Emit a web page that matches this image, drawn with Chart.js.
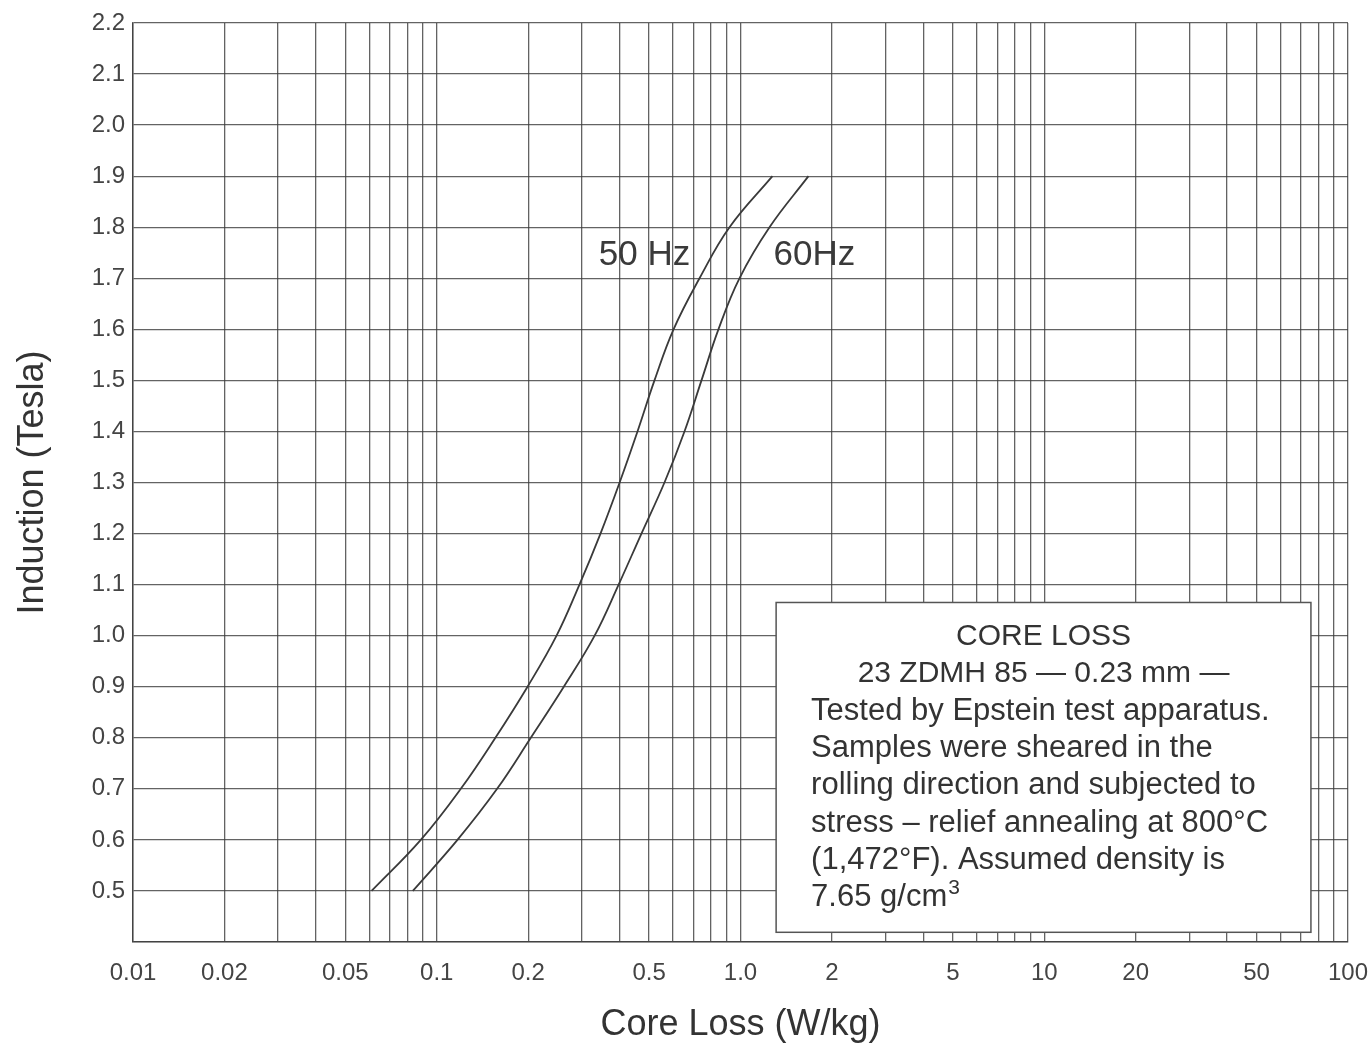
<!DOCTYPE html>
<html>
<head>
<meta charset="utf-8">
<title>Core Loss 23 ZDMH 85</title>
<script src="https://cdn.jsdelivr.net/npm/chart.js@4.4.1/dist/chart.umd.min.js"></script>
<style>
  html, body { margin: 0; padding: 0; background: #fff; }
  canvas { display: block; }
</style>
</head>
<body>
<canvas id="coreLossChart" width="1372" height="1052"></canvas>
<script>
const induction = [0.5, 0.6, 0.7, 0.8, 0.9, 1.0, 1.1, 1.2, 1.3, 1.4, 1.5, 1.6, 1.7, 1.8, 1.9];

// Core loss (W/kg) at each induction level
const loss50Hz = [0.061, 0.0886, 0.120, 0.156, 0.199, 0.248, 0.295, 0.346, 0.400, 0.458, 0.521, 0.602, 0.733, 0.920, 1.274];
const loss60Hz = [0.0834, 0.117, 0.158, 0.204, 0.262, 0.331, 0.397, 0.472, 0.562, 0.654, 0.744, 0.846, 0.992, 1.246, 1.674];

// x axis: labelled ticks and the 1..9 grid per decade
const xTickValues = [0.01, 0.02, 0.05, 0.1, 0.2, 0.5, 1, 2, 5, 10, 20, 50, 100];
const xTickLabels = ['0.01', '0.02', '0.05', '0.1', '0.2', '0.5', '1.0', '2', '5', '10', '20', '50', '100'];
const decades = [0.01, 0.1, 1, 10];
const xGridValues = [];
decades.forEach(d => {
  for (let m = 1; m <= 9; m++) xGridValues.push(+(m * d).toPrecision(3));
});
xGridValues.push(100);

const noteLines = [
  'Tested by Epstein test apparatus.',
  'Samples were sheared in the',
  'rolling direction and subjected to',
  'stress \u2013 relief annealing at 800\u00b0C',
  '(1,472\u00b0F). Assumed density is'
];

const FONT = '"Liberation Sans", Arial, Helvetica, sans-serif';
const gridColor = 'rgba(60, 60, 60, 0.8)';
const inkColor = '#3a3a3a';

// draws the curve labels and the note box
const notesPlugin = {
  id: 'notes',
  afterDatasetsDraw(chart) {
    const { ctx, scales: { x, y } } = chart;
    ctx.save();

    // curve labels
    ctx.fillStyle = inkColor;
    ctx.font = '35px ' + FONT;
    ctx.textAlign = 'center';
    ctx.textBaseline = 'middle';
    ctx.fillText('50 Hz', x.getPixelForValue(0.483), y.getPixelForValue(1.744));
    ctx.fillText('60Hz', x.getPixelForValue(1.75), y.getPixelForValue(1.744));

    // note box
    const left = x.getPixelForValue(1.31);
    const right = x.getPixelForValue(75.5);
    const top = y.getPixelForValue(1.065);
    const bottom = y.getPixelForValue(0.419);
    ctx.fillStyle = '#fff';
    ctx.fillRect(left, top, right - left, bottom - top);
    ctx.strokeStyle = '#555';
    ctx.lineWidth = 1.5;
    ctx.strokeRect(left, top, right - left, bottom - top);

    const lineH = 37.3;
    const cx = (left + right) / 2;
    let ty = top + 34;
    ctx.fillStyle = '#333';
    ctx.font = '30px ' + FONT;
    ctx.textAlign = 'center';
    ctx.fillText('CORE LOSS', cx, ty);
    ty += lineH;
    ctx.fillText('23 ZDMH 85 \u2014 0.23 mm \u2014', cx, ty);
    ctx.font = '31px ' + FONT;
    ctx.textAlign = 'left';
    const tx = left + 35;
    noteLines.forEach(line => {
      ty += lineH;
      ctx.fillText(line, tx, ty);
    });
    ty += lineH;
    const base = '7.65 g/cm';
    ctx.fillText(base, tx, ty);
    const w = ctx.measureText(base).width;
    ctx.font = '21px ' + FONT;
    ctx.fillText('3', tx + w + 1, ty - 9);

    ctx.restore();
  }
};

const ctx = document.getElementById('coreLossChart').getContext('2d');

new Chart(ctx, {
  type: 'line',
  data: {
    datasets: [
      {
        label: '50 Hz',
        data: induction.map((b, i) => ({ x: loss50Hz[i], y: b })),
        borderColor: inkColor,
        borderWidth: 1.8,
        pointRadius: 0,
        tension: 0.4,
        fill: false
      },
      {
        label: '60 Hz',
        data: induction.map((b, i) => ({ x: loss60Hz[i], y: b })),
        borderColor: inkColor,
        borderWidth: 1.8,
        pointRadius: 0,
        tension: 0.4,
        fill: false
      }
    ]
  },
  options: {
    responsive: false,
    animation: false,
    layout: { padding: { top: 23, right: 24, left: 0, bottom: 0 } },
    plugins: {
      legend: { display: false },
      tooltip: { enabled: false }
    },
    scales: {
      x: {
        type: 'logarithmic',
        min: 0.01,
        max: 100,
        afterBuildTicks: scale => {
          scale.ticks = xGridValues.map(v => ({ value: v }));
        },
        afterFit: scale => {
          scale.height = 110;
          scale.paddingLeft = 0;
          scale.paddingRight = 0;
        },
        grid: { color: gridColor, lineWidth: 1.3, drawTicks: false },
        border: { display: true, color: gridColor, width: 1.5 },
        ticks: {
          autoSkip: false,
          maxRotation: 0,
          padding: 17,
          color: '#444',
          font: { family: FONT, size: 24 },
          callback: value => {
            const i = xTickValues.findIndex(v => Math.abs(v - value) < value * 1e-6);
            return i >= 0 ? xTickLabels[i] : '';
          }
        },
        title: {
          display: true,
          text: 'Core Loss (W/kg)',
          color: '#333',
          font: { family: FONT, size: 36 },
          padding: { top: 0, bottom: 5 }
        }
      },
      y: {
        type: 'linear',
        min: 0.4,
        max: 2.2,
        afterFit: scale => {
          scale.width = 133;
          scale.paddingTop = 0;
          scale.paddingBottom = 0;
        },
        grid: { color: gridColor, lineWidth: 1.3, drawTicks: false },
        border: { display: true, color: gridColor, width: 1.5 },
        ticks: {
          stepSize: 0.1,
          padding: 8,
          color: '#444',
          font: { family: FONT, size: 24 },
          callback: value => (Math.abs(value - 0.4) < 1e-6 ? '' : value.toFixed(1))
        },
        title: {
          display: true,
          text: 'Induction (Tesla)',
          color: '#333',
          font: { family: FONT, size: 36 },
          padding: { top: 11, bottom: 0 }
        }
      }
    }
  },
  plugins: [notesPlugin]
});
</script>
</body>
</html>
